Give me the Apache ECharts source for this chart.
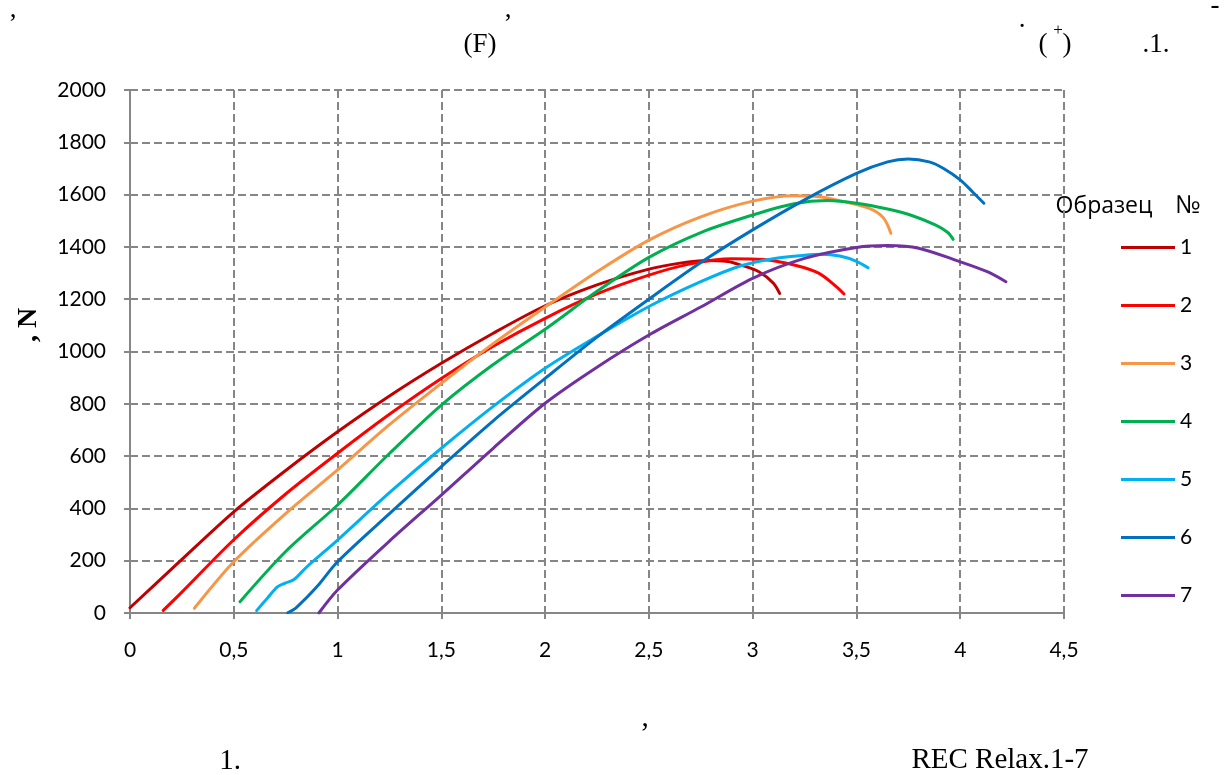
<!DOCTYPE html>
<html>
<head>
<meta charset="utf-8">
<script src="https://cdn.jsdelivr.net/npm/echarts@6/dist/echarts.min.js"></script>
<style>
  html, body { margin: 0; padding: 0; background: #ffffff; }
  #chart { width: 1225px; height: 775px; }
</style>
</head>
<body>
<div id="chart"></div>
<script>
// Force–displacement curves for specimens 1–7 (displacement, force in N)
const sampleNames = ['1', '2', '3', '4', '5', '6', '7'];

const sample1 = [[0, 20], [0.25, 205], [0.5, 387], [0.75, 545], [1, 693], [1.25, 830], [1.5, 955],
  [1.75, 1070], [2, 1175], [2.25, 1255], [2.5, 1315], [2.65, 1338], [2.78, 1348], [2.88, 1344], [2.94, 1331],
  [3.03, 1305], [3.1, 1261], [3.13, 1222]];

const sample2 = [[0.16, 10], [0.25, 80], [0.5, 280], [0.75, 455], [1, 611], [1.25, 760], [1.5, 897], [1.75, 1020],
  [2, 1127], [2.25, 1220], [2.5, 1292], [2.7, 1335], [2.9, 1355], [3.05, 1352], [3.2, 1331], [3.32, 1299],
  [3.4, 1250], [3.44, 1220]];

const sample3 = [[0.31, 18], [0.5, 196], [0.75, 380], [1, 547], [1.25, 720], [1.5, 878], [1.75, 1030], [2, 1170],
  [2.25, 1305], [2.5, 1426], [2.75, 1515], [3, 1575], [3.2, 1596], [3.32, 1592], [3.44, 1573], [3.56, 1548],
  [3.63, 1511], [3.666, 1452]];

const sample4 = [[0.53, 43], [0.75, 235], [1, 413], [1.25, 610], [1.5, 795], [1.75, 950], [2, 1085], [2.25, 1230],
  [2.5, 1360], [2.75, 1455], [3, 1522], [3.2, 1565], [3.36, 1577], [3.5, 1567], [3.65, 1545], [3.76, 1522],
  [3.88, 1484], [3.94, 1455], [3.966, 1429]];

const sample5 = [[0.61, 9], [0.66, 55], [0.71, 100], [0.75, 115], [0.79, 128], [0.85, 175], [1, 279], [1.25, 460],
  [1.5, 630], [1.75, 790], [2, 936], [2.25, 1058], [2.5, 1172], [2.75, 1267], [2.94, 1327], [3.1, 1355],
  [3.25, 1368], [3.33, 1372], [3.42, 1365], [3.5, 1345], [3.556, 1320]];

const sample6 = [[0.76, 1], [0.8, 20], [0.9, 100], [1, 196], [1.25, 380], [1.5, 560], [1.75, 735], [2, 897],
  [2.25, 1055], [2.5, 1200], [2.75, 1340], [3, 1465], [3.25, 1580], [3.5, 1681], [3.65, 1725], [3.75, 1736],
  [3.85, 1725], [3.92, 1700], [4, 1656], [4.06, 1610], [4.114, 1567]];

const sample7 = [[0.91, 0], [1, 88], [1.25, 275], [1.5, 451], [1.75, 630], [2, 802], [2.25, 940], [2.5, 1063],
  [2.75, 1170], [3, 1280], [3.25, 1356], [3.5, 1398], [3.65, 1405], [3.8, 1395], [4, 1343], [4.13, 1305],
  [4.22, 1267]];

const samples = [sample1, sample2, sample3, sample4, sample5, sample6, sample7];
const lineColors = ['#C00000', '#FF0000', '#F79646', '#00B050', '#00B0F0', '#0070C0', '#7030A0'];

const gridGray = '#868686';
const tickFont = 'Lato, "Open Sans", sans-serif';
const serif = '"Liberation Serif", "DejaVu Serif", serif';

function decimalComma(v) {
  return String(v).replace('.', ',');
}

const series = samples.map((data, i) => ({
  name: sampleNames[i],
  type: 'line',
  data: data,
  symbol: 'none',
  smooth: 0.3,
  lineStyle: { color: lineColors[i], width: 3, cap: 'round', join: 'round' },
  itemStyle: { color: lineColors[i] },
  z: 3 + i
}));

// text placed by its centre point
function txt(text, x, y, size, opts) {
  opts = opts || {};
  return {
    type: 'text',
    x: x,
    y: y,
    rotation: opts.rotation || 0,
    silent: true,
    style: {
      text: text,
      fill: '#000',
      font: (opts.weight || 'normal') + ' ' + size + 'px ' + (opts.family || serif),
      textAlign: opts.align || 'center',
      textVerticalAlign: 'middle'
    }
  };
}

const chart = echarts.init(document.getElementById('chart'), null, { renderer: 'canvas' });

chart.setOption({
  animation: false,
  backgroundColor: '#ffffff',
  grid: { left: 130, right: 161, top: 90, bottom: 162, containLabel: false },
  xAxis: {
    type: 'value',
    min: 0,
    max: 4.5,
    interval: 0.5,
    axisLine: { show: true, lineStyle: { color: gridGray, width: 2 } },
    axisTick: { show: true, inside: false, length: 6, lineStyle: { color: gridGray, width: 2 } },
    axisLabel: { color: '#000', fontFamily: tickFont, fontSize: 21, margin: 27, formatter: decimalComma },
    splitLine: { show: true, lineStyle: { color: gridGray, width: 2, type: [8, 4] } }
  },
  yAxis: {
    type: 'value',
    min: 0,
    max: 2000,
    interval: 200,
    axisLine: { show: true, lineStyle: { color: gridGray, width: 2 } },
    axisTick: { show: true, inside: false, length: 6, lineStyle: { color: gridGray, width: 2 } },
    axisLabel: { color: '#000', fontFamily: tickFont, fontSize: 21, margin: 24, formatter: (v) => String(v) },
    splitLine: { show: true, lineStyle: { color: gridGray, width: 2, type: [8, 4] } }
  },
  legend: {
    data: sampleNames,
    orient: 'vertical',
    left: 1121,
    top: 237,
    padding: 0,
    icon: 'rect',
    itemWidth: 54,
    itemHeight: 3,
    itemGap: 37,
    selectedMode: false,
    textStyle: { color: '#000', fontFamily: tickFont, fontSize: 21, lineHeight: 20 }
  },
  graphic: [
    // legend heading
    txt('Образец', 1104, 206, 23, { family: '"Open Sans", sans-serif' }),
    txt('№', 1188, 206, 25, { family: '"Open Sans", sans-serif' }),
    // axis captions
    txt(', N', 29, 325, 28, { weight: 'bold', rotation: Math.PI / 2 }),
    txt(',', 645, 718, 29),
    // heading lines
    txt(',', 13, 10, 27),
    txt(',', 508, 10, 27),
    txt('.', 1022, 20, 27),
    txt('-', 1215, 6, 27),
    txt('(F)', 480, 45, 27),
    txt('(', 1043, 45, 27),
    txt('+', 1058, 31, 17),
    txt(')', 1067, 45, 27),
    txt('.1.', 1156, 45, 27),
    // caption line
    txt('1.', 230, 761, 29),
    txt('REC Relax.1-7', 1000, 760, 29)
  ],
  series: series
});
</script>
</body>
</html>
